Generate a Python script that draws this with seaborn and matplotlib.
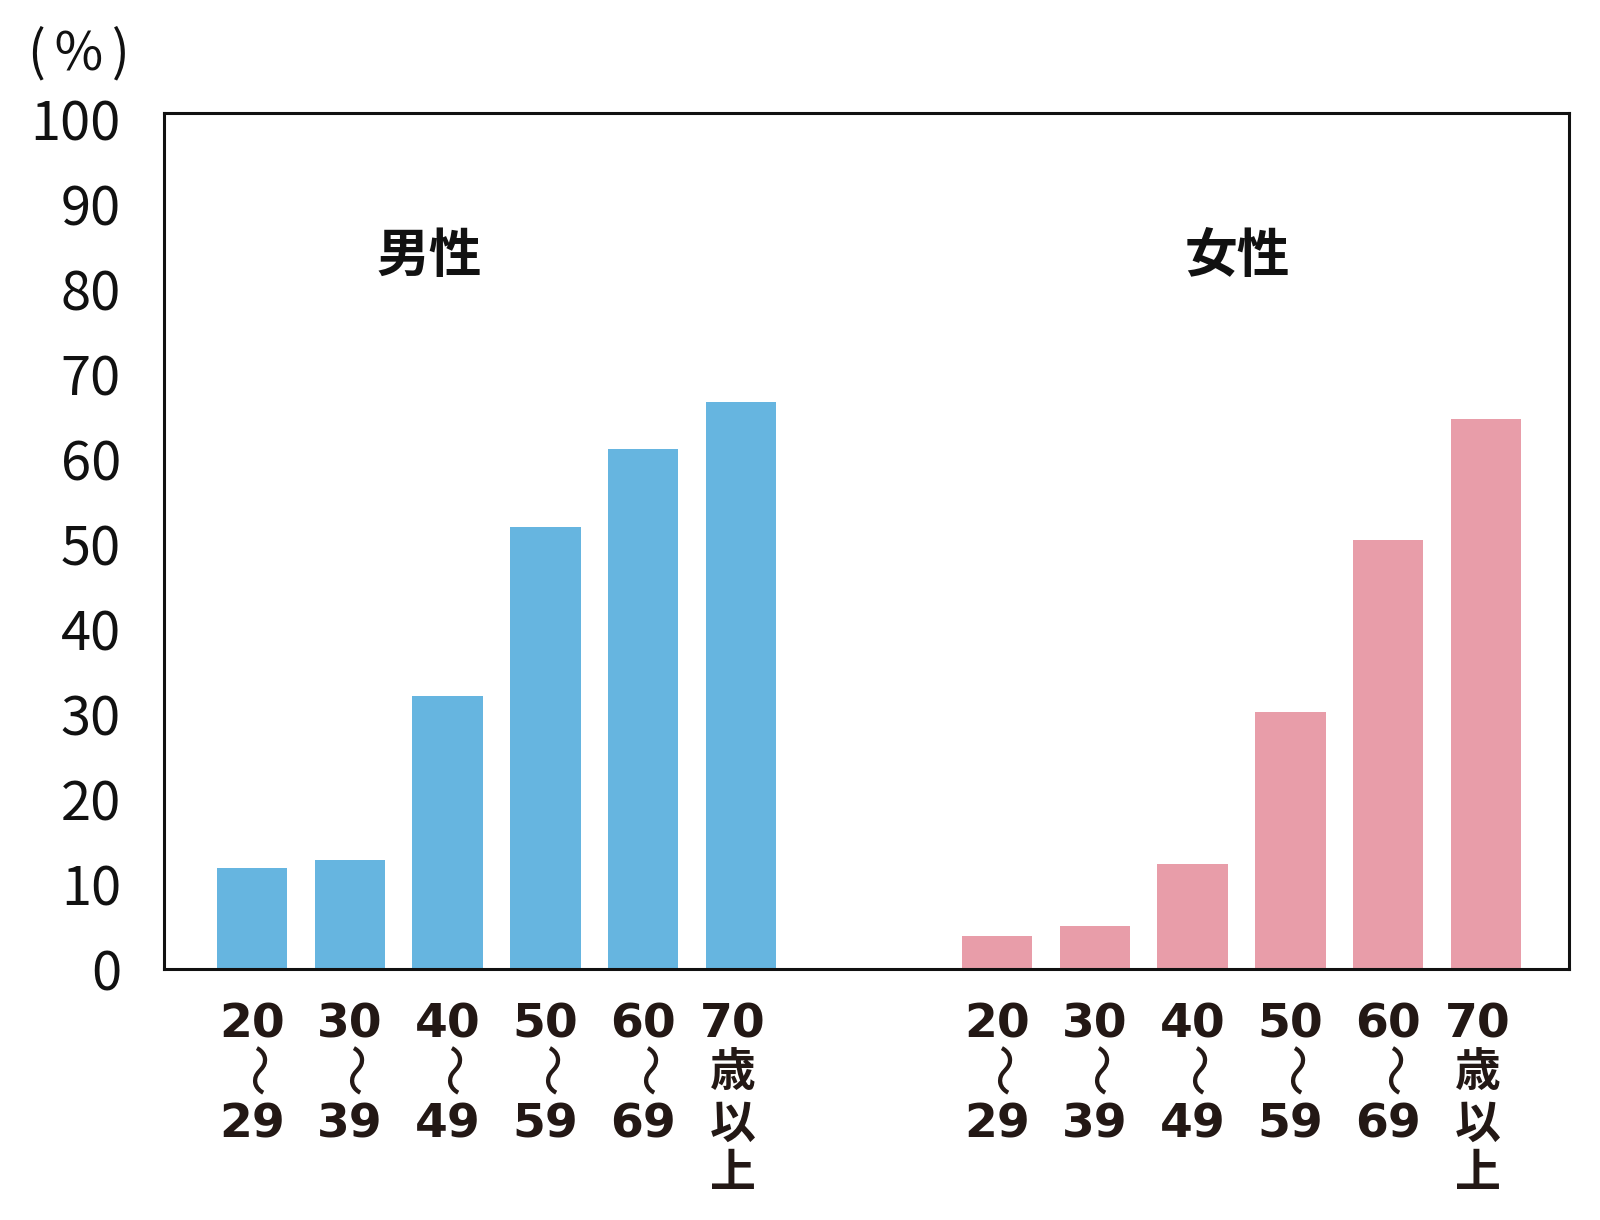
import numpy as np
import pandas as pd
import matplotlib.pyplot as plt
import matplotlib.transforms as mtransforms
import seaborn as sns

# values (%)
age_labels = ["20\n〜\n29", "30\n〜\n39", "40\n〜\n49", "50\n〜\n59", "60\n〜\n69", "70\n歳\n以\n上"]
male_values = [11.9, 12.8, 32.1, 52.0, 61.2, 66.7]
female_values = [3.9, 5.1, 12.3, 30.2, 50.5, 64.7]
groups = ["男性", "女性"]

BLUE = "#66B5E0"
PINK = "#E89DA9"
TEXT = "#231815"
FEMALE_START = 7.62  # where the second group begins on the x axis

sns.set_theme(style="white")
plt.rcParams["font.family"] = ["Noto Sans CJK JP", "DejaVu Sans"]

n = len(age_labels)
positions = np.concatenate([np.arange(n), np.arange(n) + FEMALE_START])
df = pd.DataFrame({
    "pos": positions,
    "value": male_values + female_values,
    "sex": [groups[0]] * n + [groups[1]] * n,
})

fig = plt.figure(figsize=(16, 12.2), dpi=100)
ax = fig.add_axes([0.1025, 0.2057, 0.8781, 0.7017])

sns.barplot(data=df, x="pos", y="value", hue="sex", palette={groups[0]: BLUE, groups[1]: PINK},
            native_scale=True, width=0.72, dodge=False, saturation=1, linewidth=0,
            legend=False, ax=ax)

ax.set_xlim(-0.90, 13.47)
ax.set_ylim(0, 100.7)
ax.set_yticks(range(0, 101, 10))
ax.tick_params(axis="y", length=0, pad=31, labelsize=39, labelcolor="#111111")
ax.set_xticks(positions)
ax.set_xticklabels([])
ax.tick_params(axis="x", length=0)
ax.set_xlabel("")
ax.set_ylabel("")

for side in ["left", "right", "top", "bottom"]:
    ax.spines[side].set_visible(True)
    ax.spines[side].set_color("#111111")
    ax.spines[side].set_linewidth(2.2)

# stacked category labels below the axis
trans = mtransforms.blended_transform_factory(ax.transData, ax.transAxes)
row_y = [-0.0654, -0.1215, -0.182, -0.2395]
for i, (pos, label) in enumerate(zip(positions, age_labels * 2)):
    x = pos - 0.08 if i % n == n - 1 else pos
    for row, part in enumerate(label.split("\n")):
        if part == "〜":
            ax.text(x, -0.119, part, transform=trans, ha="center", va="center",
                    rotation=-90, fontsize=38, color=TEXT)
        elif part.isdigit():
            ax.text(x, row_y[row], part, transform=trans, ha="center", va="center",
                    fontsize=34, fontweight="bold", color=TEXT, family=["DejaVu Sans"])
        else:
            ax.text(x, row_y[row], part, transform=trans, ha="center", va="center",
                    fontsize=33, fontweight="bold", color=TEXT)

# group titles
ax.text(0.1886, 0.832, groups[0], transform=ax.transAxes, ha="center", va="center",
        fontsize=38, fontweight="bold", color="#111111")
ax.text(0.7637, 0.832, groups[1], transform=ax.transAxes, ha="center", va="center",
        fontsize=38, fontweight="bold", color="#111111")

fig.text(0.049, 0.956, "(\u2006%\u2006)", ha="center", va="center", fontsize=38, color="#111111")

fig.savefig("out.png", dpi=100, facecolor="white")
